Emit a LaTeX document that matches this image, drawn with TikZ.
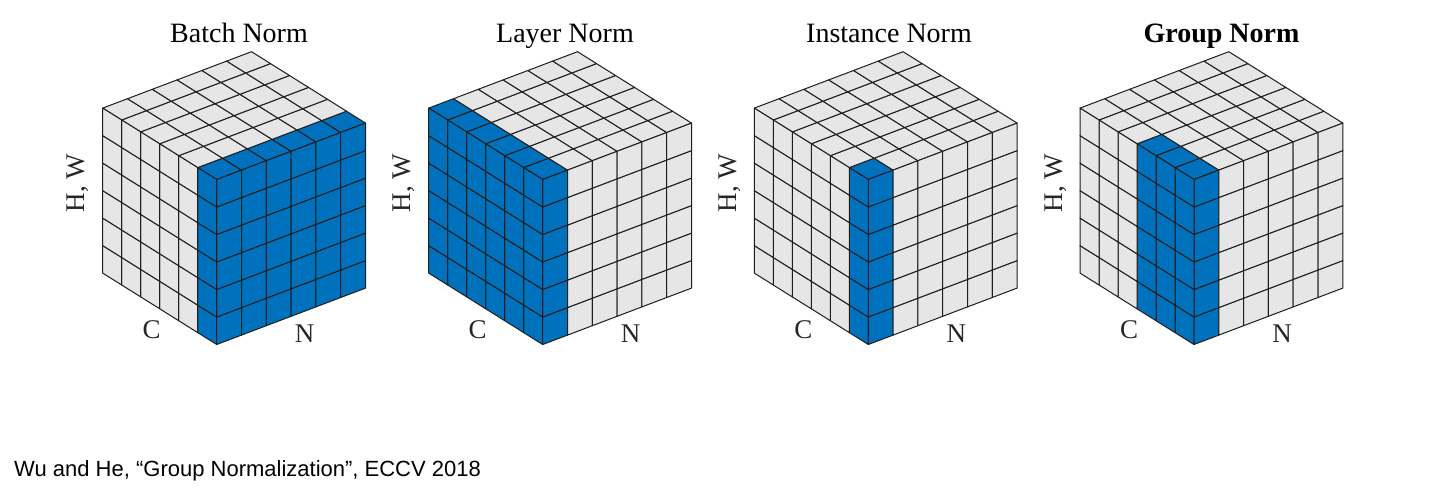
\documentclass[tikz,border=0pt]{standalone}
\usepackage{fontspec}
\setmainfont{Liberation Serif}
\newfontfamily\footfont{Liberation Sans}
\definecolor{nblue}{HTML}{0072BD}
\definecolor{ngray}{HTML}{E6E6E6}
\definecolor{nedge}{HTML}{1E1E1E}
\tikzset{
  cell/.style={draw=nedge, line width=1pt, line join=round},
  lbl/.style={inner sep=0pt, text=black!85, font=\fontsize{27}{29}\selectfont},
  ttl/.style={inner sep=0pt, anchor=base, font=\fontsize{28}{30}\selectfont},
}
% #1 front x, #2 front y (pixels, y down), #3 last blue N index, #4 last blue C index,
% #5 name suffix, #6 title x, #7 title
\newcommand\normcube[7]{%
  \begin{scope}[shift={(#1pt,-#2pt)}, x={(24.8pt,9.4pt)}, y={(-19pt,11.9pt)}, z={(0pt,27.5pt)}]
    \foreach \i in {0,...,5}{\foreach \j in {0,...,5}{
      % top face (h = 6): \i = n, \j = c
      \ifnum\i>#3\relax \def\colA{ngray}\else\ifnum\j>#4\relax \def\colA{ngray}\else\def\colA{nblue}\fi\fi
      \filldraw[cell, fill=\colA] (\i,\j,6) -- (\i+1,\j,6) -- (\i+1,\j+1,6) -- (\i,\j+1,6) -- cycle;
      % left face (n = 0): \j = c, \i = h
      \ifnum\j>#4\relax \def\colB{ngray}\else\def\colB{nblue}\fi
      \filldraw[cell, fill=\colB] (0,\j,\i) -- (0,\j+1,\i) -- (0,\j+1,\i+1) -- (0,\j,\i+1) -- cycle;
      % right face (c = 0): \i = n, \j = h
      \ifnum\i>#3\relax \def\colC{ngray}\else\def\colC{nblue}\fi
      \filldraw[cell, fill=\colC] (\i,0,\j) -- (\i+1,0,\j) -- (\i+1,0,\j+1) -- (\i,0,\j+1) -- cycle;
    }}
  \end{scope}
  \node[ttl] (title#5) at (#6pt,-43pt) {#7};
  \node[lbl] (c#5) at (#1pt-65pt,-330pt) {C};
  \node[lbl] (n#5) at (#1pt+88pt,-334pt) {N};
  \node[lbl, rotate=90] (hw#5) at (#1pt-138.7pt,-183pt) {H, W};
}
\begin{document}
\begin{tikzpicture}
  \fill[white] (0,0) rectangle (1440pt,-495pt);
  \useasboundingbox (0,0) rectangle (1440pt,-495pt);
  \normcube{216.7}{344.5}{5}{0}{bn}{239}{Batch Norm}
  \normcube{542.7}{344.5}{0}{5}{ln}{565}{Layer Norm}
  \normcube{868.3}{344.5}{0}{0}{in}{889}{Instance Norm}
  \normcube{1194}{344.5}{0}{2}{gn}{1221.5}{\bfseries Group Norm}
  \node[anchor=base west, inner sep=0pt, font=\footfont\fontsize{22}{24}\selectfont] (cite) at (14pt,-476pt)
    {Wu and He, “Group Normalization”, ECCV 2018};
\end{tikzpicture}
\end{document}
